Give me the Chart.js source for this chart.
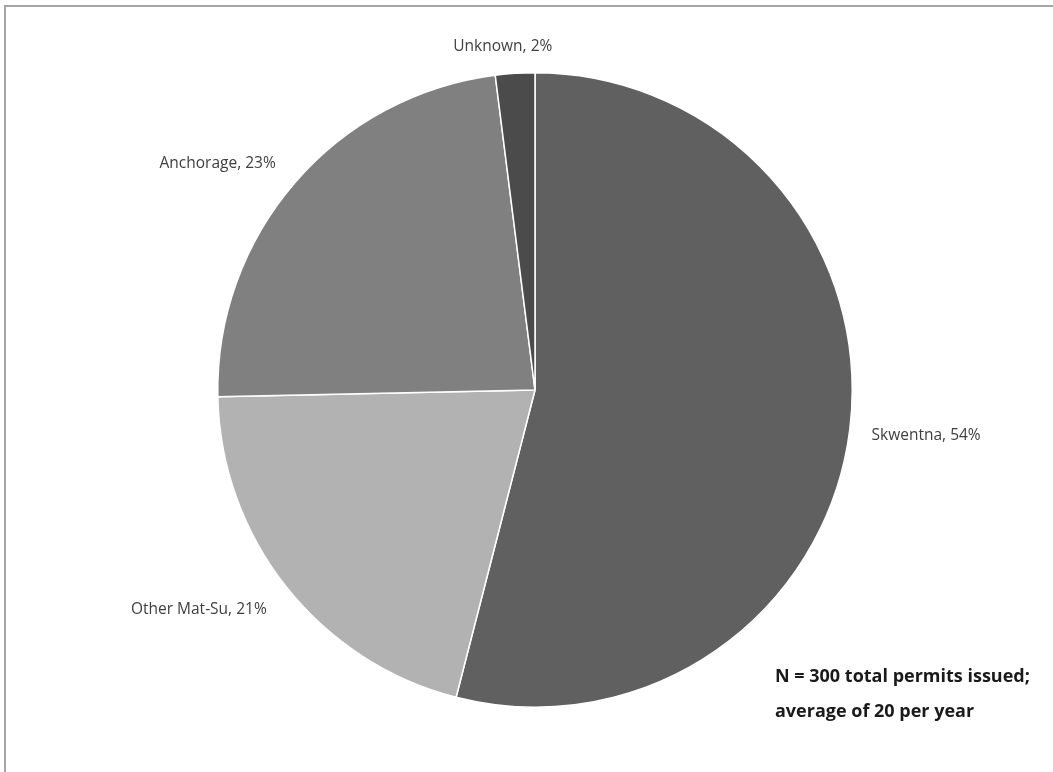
<!DOCTYPE html>
<html>
<head>
<meta charset="utf-8">
<script src="https://cdn.jsdelivr.net/npm/chart.js@4"></script>
<style>
  html, body { margin: 0; padding: 0; background: #fff; }
  #wrap { width: 1053px; height: 772px; position: relative; }
</style>
</head>
<body>
<div id="wrap"><canvas id="pie"></canvas></div>
<script>
// permits by residence, N = 300
const categories = ['Skwentna', 'Other Mat-Su', 'Anchorage', 'Unknown'];
const permits = [162, 62, 70, 6];
const percentLabels = ['54%', '21%', '23%', '2%'];
const sliceColors = ['#606060', '#b2b2b2', '#808080', '#4b4b4b'];
const noteLines = ['N = 300 total permits issued;', 'average of 20 per year'];

// frame + outside labels, like the old excel chart
const decorations = {
    id: 'decorations',
    beforeDraw (chart) {
        const ctx = chart.ctx;
        ctx.save();
        ctx.fillStyle = '#ffffff';
        ctx.fillRect(0, 0, chart.width, chart.height);
        ctx.strokeStyle = '#a6a6a6';
        ctx.lineWidth = 2;
        ctx.beginPath();
        ctx.moveTo(5, chart.height);
        ctx.lineTo(5, 6);
        ctx.lineTo(chart.width, 6);
        ctx.stroke();
        ctx.restore();
    },
    afterDraw (chart) {
        const ctx = chart.ctx;
        const arcs = chart.getDatasetMeta(0).data;
        ctx.save();
        ctx.font = '15.5px "Open Sans", sans-serif';
        ctx.fillStyle = '#404040';
        ctx.textBaseline = 'middle';
        arcs.forEach((arc, i) => {
            const mid = (arc.startAngle + arc.endAngle) / 2;
            const r = arc.outerRadius + 20;
            const x = arc.x + Math.cos(mid) * r;
            const y = arc.y + Math.sin(mid) * r;
            const text = categories[i] + ', ' + percentLabels[i];
            if (Math.abs(Math.cos(mid)) < 0.2) {
                ctx.textAlign = 'center';
                ctx.fillText(text, x - 11, y - 7);
            } else if (Math.cos(mid) > 0) {
                ctx.textAlign = 'left';
                ctx.fillText(text, x + 2, y + 3);
            } else {
                ctx.textAlign = 'right';
                ctx.fillText(text, x - 4, y + (Math.sin(mid) > 0 ? 10 : -6));
            }
        });
        ctx.font = 'bold 18px "Open Sans", sans-serif';
        ctx.fillStyle = '#1a1a1a';
        ctx.textAlign = 'left';
        noteLines.forEach((line, i) => {
            ctx.fillText(line, 775, 677 + i * 35);
        });
        ctx.restore();
    }
};

new Chart(document.getElementById('pie').getContext('2d'), {
    type: 'pie',
    data: {
        labels: categories,
        datasets: [{
            data: permits,
            backgroundColor: sliceColors,
            borderColor: '#ffffff',
            borderWidth: 1.5
        }]
    },
    options: {
        responsive: true,
        maintainAspectRatio: false,
        animation: false,
        layout: {
            padding: { top: 72, bottom: 64, left: 217, right: 200 }
        },
        plugins: {
            legend: { display: false },
            tooltip: { enabled: false }
        }
    },
    plugins: [decorations]
});
</script>
</body>
</html>
